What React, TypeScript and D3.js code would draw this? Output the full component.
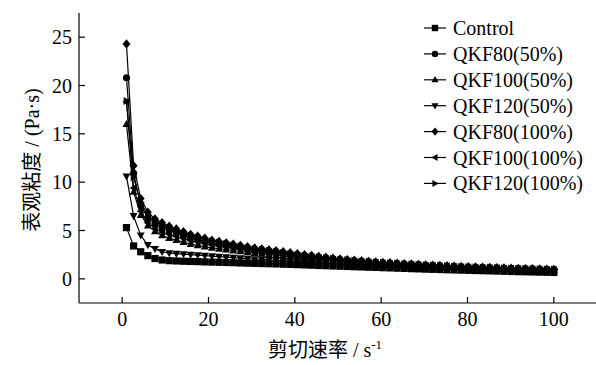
import React from "react";
import * as d3 from "d3";

const shearRate = [1, 2.65, 4.3, 5.95, 7.6, 9.25, 10.9, 12.55, 14.2, 15.85, 17.5, 19.15, 20.8, 22.45, 24.1, 25.75, 27.4, 29.05, 30.7, 32.35, 34, 35.65, 37.3, 38.95, 40.6, 42.25, 43.9, 45.55, 47.2, 48.85, 50.5, 52.15, 53.8, 55.45, 57.1, 58.75, 60.4, 62.05, 63.7, 65.35, 67, 68.65, 70.3, 71.95, 73.6, 75.25, 76.9, 78.55, 80.2, 81.85, 83.5, 85.15, 86.8, 88.45, 90.1, 91.75, 93.4, 95.05, 96.7, 98.35, 100];

const control = [5.3, 3.4, 2.8, 2.4, 2.1, 1.95, 1.88, 1.85, 1.82, 1.8, 1.78, 1.75, 1.73, 1.71, 1.69, 1.67, 1.64, 1.62, 1.6, 1.58, 1.56, 1.54, 1.51, 1.49, 1.47, 1.44, 1.41, 1.38, 1.36, 1.33, 1.3, 1.28, 1.25, 1.23, 1.2, 1.18, 1.15, 1.13, 1.1, 1.08, 1.05, 1.03, 1.0, 0.98, 0.96, 0.94, 0.92, 0.9, 0.88, 0.86, 0.84, 0.82, 0.8, 0.78, 0.76, 0.74, 0.73, 0.71, 0.69, 0.68, 0.66];
const qkf80_50 = [20.8, 10.9, 7.6, 6.3, 5.7, 5.3, 5.0, 4.75, 4.5, 4.25, 4.07, 3.88, 3.7, 3.58, 3.47, 3.35, 3.23, 3.12, 3.0, 2.91, 2.82, 2.73, 2.63, 2.54, 2.45, 2.37, 2.28, 2.2, 2.12, 2.03, 1.95, 1.9, 1.84, 1.79, 1.73, 1.68, 1.62, 1.58, 1.55, 1.51, 1.47, 1.44, 1.4, 1.37, 1.33, 1.3, 1.27, 1.23, 1.2, 1.18, 1.15, 1.13, 1.11, 1.08, 1.06, 1.04, 1.02, 1.0, 0.99, 0.97, 0.95];
const qkf100_50 = [16.0, 9.0, 6.6, 5.5, 4.9, 4.5, 4.2, 4.0, 3.8, 3.6, 3.47, 3.33, 3.2, 3.11, 3.02, 2.93, 2.83, 2.74, 2.65, 2.58, 2.5, 2.43, 2.35, 2.28, 2.2, 2.13, 2.07, 2.0, 1.93, 1.87, 1.8, 1.75, 1.71, 1.66, 1.61, 1.57, 1.52, 1.49, 1.45, 1.42, 1.39, 1.35, 1.32, 1.29, 1.26, 1.24, 1.21, 1.18, 1.15, 1.13, 1.11, 1.09, 1.06, 1.04, 1.02, 1.0, 0.98, 0.96, 0.94, 0.92, 0.9];
const qkf120_50 = [10.6, 6.5, 4.5, 3.5, 3.1, 2.8, 2.65, 2.6, 2.55, 2.5, 2.45, 2.4, 2.35, 2.3, 2.25, 2.2, 2.15, 2.1, 2.05, 2.01, 1.97, 1.93, 1.88, 1.84, 1.8, 1.76, 1.72, 1.68, 1.63, 1.59, 1.55, 1.52, 1.48, 1.45, 1.42, 1.38, 1.35, 1.32, 1.29, 1.27, 1.24, 1.21, 1.18, 1.16, 1.13, 1.11, 1.08, 1.06, 1.03, 1.01, 0.99, 0.97, 0.94, 0.92, 0.9, 0.88, 0.87, 0.85, 0.83, 0.82, 0.8];
const qkf80_100 = [24.3, 11.7, 8.3, 6.9, 6.2, 5.8, 5.45, 5.15, 4.87, 4.6, 4.4, 4.2, 4.0, 3.86, 3.72, 3.59, 3.46, 3.33, 3.2, 3.1, 3.0, 2.9, 2.8, 2.7, 2.6, 2.5, 2.41, 2.32, 2.23, 2.14, 2.05, 1.99, 1.93, 1.87, 1.81, 1.76, 1.7, 1.66, 1.62, 1.58, 1.53, 1.49, 1.45, 1.42, 1.38, 1.35, 1.32, 1.28, 1.25, 1.22, 1.2, 1.17, 1.15, 1.12, 1.1, 1.08, 1.06, 1.04, 1.02, 1.0, 0.98];
const qkf100_100 = [18.3, 9.4, 7.0, 5.8, 5.2, 4.85, 4.6, 4.38, 4.17, 3.95, 3.8, 3.65, 3.5, 3.39, 3.28, 3.18, 3.07, 2.96, 2.85, 2.77, 2.68, 2.6, 2.52, 2.43, 2.35, 2.28, 2.2, 2.13, 2.05, 1.98, 1.9, 1.85, 1.79, 1.74, 1.69, 1.63, 1.58, 1.54, 1.51, 1.47, 1.43, 1.4, 1.36, 1.33, 1.3, 1.27, 1.24, 1.21, 1.18, 1.16, 1.13, 1.11, 1.09, 1.06, 1.04, 1.02, 1.0, 0.99, 0.97, 0.95, 0.93];
const qkf120_100 = [18.4, 10.5, 7.9, 6.6, 5.9, 5.5, 5.2, 4.95, 4.7, 4.45, 4.27, 4.08, 3.9, 3.77, 3.63, 3.5, 3.37, 3.23, 3.1, 3.0, 2.9, 2.8, 2.7, 2.6, 2.5, 2.42, 2.33, 2.25, 2.17, 2.08, 2.0, 1.94, 1.89, 1.83, 1.77, 1.72, 1.66, 1.62, 1.58, 1.54, 1.5, 1.46, 1.42, 1.39, 1.35, 1.32, 1.29, 1.25, 1.22, 1.2, 1.17, 1.15, 1.13, 1.1, 1.08, 1.06, 1.04, 1.02, 1.0, 0.98, 0.96];

const seriesNames = ["Control", "QKF80(50%)", "QKF100(50%)", "QKF120(50%)", "QKF80(100%)", "QKF100(100%)", "QKF120(100%)"];
const seriesValues = [control, qkf80_50, qkf100_50, qkf120_50, qkf80_100, qkf100_100, qkf120_100];
const markerShapes = ["square", "circle", "up", "down", "diamond", "left", "right"];

const xTicks = [0, 20, 40, 60, 80, 100];
const yTicks = [0, 5, 10, 15, 20, 25];

const W = 596;
const H = 365;
const latinStyle = {
  fontFamily:
    "\"Liberation Serif\", \"Times New Roman\", Times, Tinos, \"Nimbus Roman\", \"Nimbus Roman No9 L\", FreeSerif, \"DejaVu Serif\", \"Noto Serif\", serif",
};
const cjkStyle = { fontFamily: "\"Noto Sans CJK SC\", sans-serif" };

function markerPath(shape: string, s: number): string {
  switch (shape) {
    case "square":
      return `M${-s},${-s}H${s}V${s}H${-s}Z`;
    case "circle":
      return `M${-s},0A${s},${s} 0 1,0 ${s},0A${s},${s} 0 1,0 ${-s},0Z`;
    case "up":
      return `M0,${-s * 1.15}L${s * 1.1},${s * 0.8}L${-s * 1.1},${s * 0.8}Z`;
    case "down":
      return `M0,${s * 1.15}L${s * 1.1},${-s * 0.8}L${-s * 1.1},${-s * 0.8}Z`;
    case "diamond":
      return `M0,${-s * 1.3}L${s * 1.1},0L0,${s * 1.3}L${-s * 1.1},0Z`;
    case "left":
      return `M${-s * 1.15},0L${s * 0.8},${-s * 1.1}L${s * 0.8},${s * 1.1}Z`;
    case "right":
      return `M${s * 1.15},0L${-s * 0.8},${-s * 1.1}L${-s * 0.8},${s * 1.1}Z`;
  }
  return "";
}

export default function App() {
  const x = d3.scaleLinear().domain([-10, 110]).range([79, 597]);
  const y = d3.scaleLinear().domain([-2.5, 27.5]).range([303, 13]);
  const line = d3
    .line<number>()
    .x((_, i) => x(shearRate[i]))
    .y((d) => y(d));

  const legendY0 = 28;
  const legendStep = 25.9;

  return (
    <svg width={W} height={H} style={{ position: "absolute", left: 0, top: 0, background: "#fff" }}>
      <rect width={W} height={H} fill="#fff" />
      <line x1={x(-10)} x2={x(-10)} y1={y(27.5)} y2={y(-2.5)} stroke="#000" strokeWidth={1.2} />
      <line x1={x(-10)} x2={x(110)} y1={y(-2.5)} y2={y(-2.5)} stroke="#000" strokeWidth={1.2} />
      {yTicks.map((t) => (
        <g key={"y" + t}>
          <line x1={x(-10)} x2={x(-10) + 6} y1={y(t)} y2={y(t)} stroke="#000" strokeWidth={1.2} />
          <text x={x(-10) - 7} y={y(t) + 7} textAnchor="end" style={latinStyle} fontSize={20}>
            {t}
          </text>
        </g>
      ))}
      {xTicks.map((t) => (
        <g key={"x" + t}>
          <line x1={x(t)} x2={x(t)} y1={y(-2.5)} y2={y(-2.5) - 6} stroke="#000" strokeWidth={1.2} />
          <text x={x(t)} y={326} textAnchor="middle" style={latinStyle} fontSize={20}>
            {t}
          </text>
        </g>
      ))}
      <text transform={`translate(39,160) rotate(-90)`} textAnchor="middle" fontSize={20}>
        <tspan style={cjkStyle}>表观粘度</tspan>
        <tspan style={latinStyle}> / (Pa·s)</tspan>
      </text>
      <text x={325} y={357} textAnchor="middle" fontSize={20}>
        <tspan style={cjkStyle}>剪切速率</tspan>
        <tspan style={latinStyle}> / s</tspan>
        <tspan style={latinStyle} fontSize={13} dy={-8}>-1</tspan>
      </text>
      {seriesValues.map((vals, si) => (
        <g key={"s" + si}>
          <path d={line(vals) || ""} fill="none" stroke="#000" strokeWidth={1.2} />
          {vals.map((v, i) => (
            <path
              key={i}
              d={markerPath(markerShapes[si], 3.6)}
              transform={`translate(${x(shearRate[i])},${y(v)})`}
              fill="#000"
            />
          ))}
        </g>
      ))}
      {seriesNames.map((name, i) => {
        const ly = legendY0 + i * legendStep;
        return (
          <g key={"l" + i}>
            <line x1={424} x2={446} y1={ly} y2={ly} stroke="#000" strokeWidth={1.2} />
            <path d={markerPath(markerShapes[i], 3.2)} transform={`translate(435,${ly})`} fill="#000" />
            <text x={453} y={ly + 7} style={latinStyle} fontSize={20}>
              {name}
            </text>
          </g>
        );
      })}
    </svg>
  );
}
